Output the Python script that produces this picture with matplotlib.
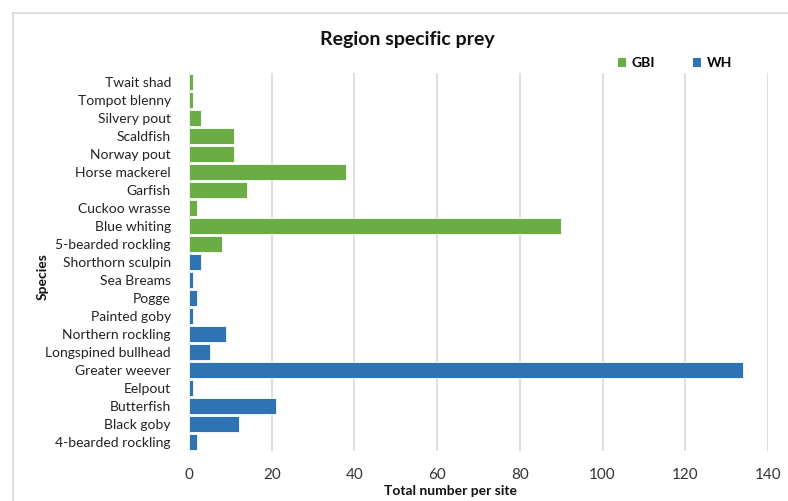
import matplotlib
matplotlib.use("Agg")
import matplotlib.pyplot as plt
from matplotlib.lines import Line2D
from matplotlib.patches import Patch

species = ["Twait shad", "Tompot blenny", "Silvery pout", "Scaldfish", "Norway pout",
           "Horse mackerel", "Garfish", "Cuckoo wrasse", "Blue whiting", "5-bearded rockling",
           "Shorthorn sculpin", "Sea Breams", "Pogge", "Painted goby", "Northern rockling",
           "Longspined bullhead", "Greater weever", "Eelpout", "Butterfish", "Black goby",
           "4-bearded rockling"]
region = ["GBI"] * 10 + ["WH"] * 11
values = [1, 1, 3, 11, 11, 38, 14, 2, 90, 8,
          3, 1, 2, 1, 9, 5, 134, 1, 21, 12, 2]
region_colors = {"GBI": "#6AAD45", "WH": "#2E74B5"}
x_ticks = [0, 20, 40, 60, 80, 100, 120, 140]

plt.rcParams['font.family'] = ['Lato', 'DejaVu Sans']

fig = plt.figure(figsize=(7.88, 5.01), dpi=100)
ax = fig.add_axes([189/788, 50/501, 579/788, 378/501])

ypos = list(range(len(species)))
colors = [region_colors[r] for r in region]
ax.barh(ypos, values, height=0.88, color=colors, edgecolor="white", linewidth=0.6, zorder=3)

ax.set_xlim(0, 140)
ax.set_ylim(len(species) - 0.5, -0.5)
ax.set_xticks(x_ticks)
ax.set_yticks(ypos)
ax.set_yticklabels(species, fontsize=10, color="#222222")
ax.tick_params(axis='x', labelsize=11, colors="#333333", length=0, pad=12)
ax.tick_params(axis='y', length=0, pad=13)
ax.grid(axis='x', color="#D9D9D9", linewidth=1.2, zorder=0)
for s in ax.spines.values():
    s.set_visible(False)

fig.text(407/788, 1 - 40/501, "Region specific prey", ha="center", va="center",
         fontsize=14, fontweight="bold", color="#111111")
fig.text(451/788, 1 - 491/501, "Total number per site", ha="center", va="center",
         fontsize=10, fontweight="bold", color="#111111")
fig.text(43/788, 1 - 277/501, "Species", ha="center", va="center", rotation=90,
         fontsize=10, fontweight="bold", color="#111111")

handles = [Patch(facecolor=region_colors[k], label=k) for k in ["GBI", "WH"]]
leg = fig.legend(handles=handles, loc="center", bbox_to_anchor=(675/788, 1 - 63/501),
                 ncol=2, frameon=False, handlelength=0.6, handleheight=0.6,
                 handletextpad=0.4, columnspacing=2.7, prop={"weight": "bold", "size": 10})

fig.add_artist(Line2D([13/788, 1.0], [1 - 13/501, 1 - 13/501], transform=fig.transFigure,
                      color="#D9D9D9", linewidth=1.2))
fig.add_artist(Line2D([13/788, 13/788], [0.0, 1 - 13/501], transform=fig.transFigure,
                      color="#D9D9D9", linewidth=1.2))

fig.savefig("out.png", dpi=100)
